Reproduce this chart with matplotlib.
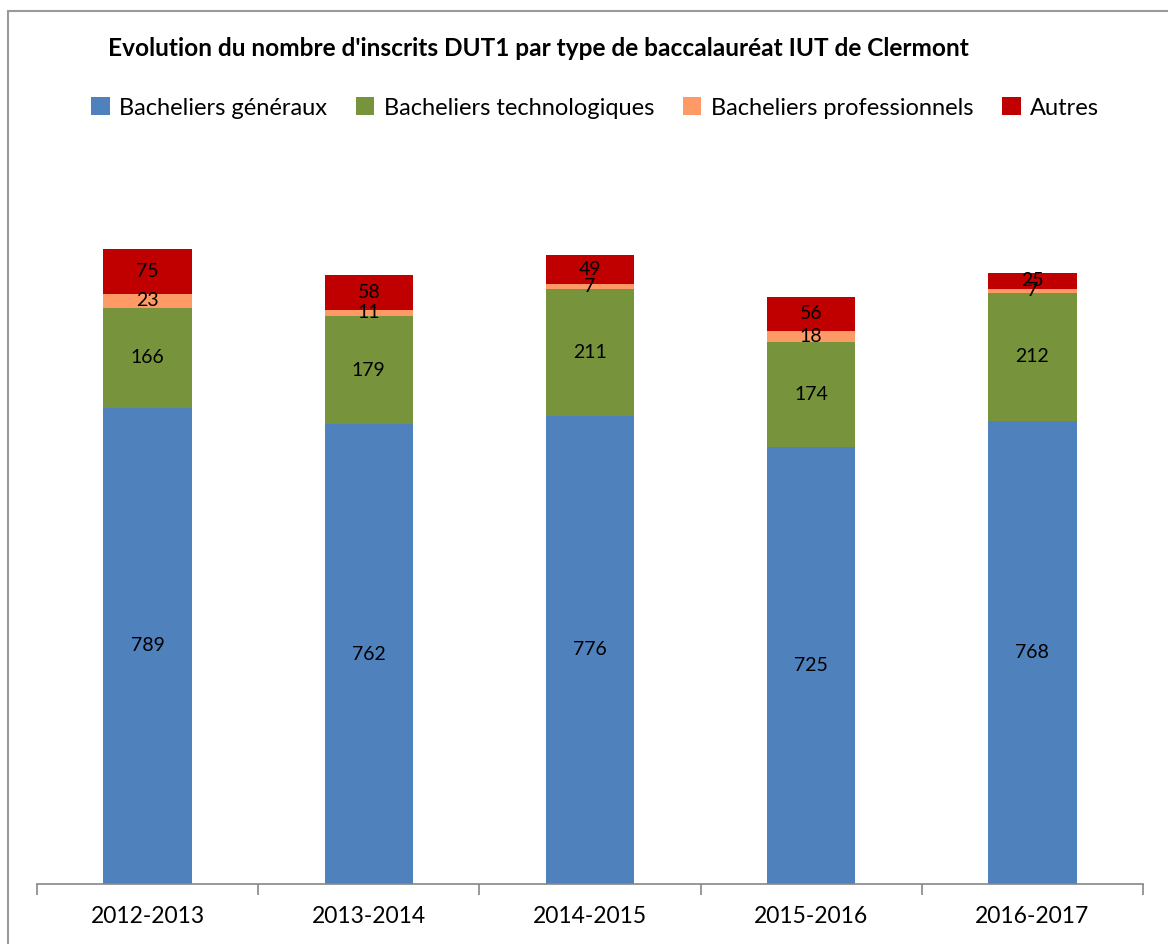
import matplotlib.pyplot as plt
import numpy as np
from matplotlib.patches import Rectangle

plt.rcParams['font.family'] = ['Lato', 'DejaVu Sans']

annees = ['2012-2013', '2013-2014', '2014-2015', '2015-2016', '2016-2017']
generaux = [789, 762, 776, 725, 768]
techno = [166, 179, 211, 174, 212]
pro = [23, 11, 7, 18, 7]
autres = [75, 58, 49, 56, 25]

series = [generaux, techno, pro, autres]
noms = ['Bacheliers généraux', 'Bacheliers technologiques',
        'Bacheliers professionnels', 'Autres']
couleurs = ['#4F81BD', '#77933C', '#FF9966', '#C00000']

fig = plt.figure(figsize=(11.68, 9.44), dpi=100)
ax = fig.add_axes([37/1168, 1-884/944, (1143-37)/1168, 724/944])

x = np.arange(len(annees))
bas = np.zeros(len(annees))
for vals, nom, c in zip(series, noms, couleurs):
    vals = np.array(vals)
    ax.bar(x, vals, 0.4, bottom=bas, color=c, label=nom)
    for xi, b, v in zip(x, bas, vals):
        ax.text(xi, b + v/2, str(v), ha='center', va='center', fontsize=14, color='black')
    bas = bas + vals

ax.set_xlim(-0.5, 4.5)
ax.set_ylim(0, 1200)
ax.set_yticks([])
for s in ['left', 'right', 'top']:
    ax.spines[s].set_visible(False)
ax.spines['bottom'].set_color('#868686')
ax.spines['bottom'].set_linewidth(1.2)
ax.set_xticks(x)
ax.set_xticklabels(annees, fontsize=16.5)
ax.tick_params(axis='x', which='major', length=0, pad=16)
ax.set_xticks(np.arange(-0.5, 5, 1), minor=True)
ax.tick_params(axis='x', which='minor', length=8, color='#868686', width=1.2)

fig.text(108/1168, 1-49/944, "Evolution du nombre d'inscrits DUT1 par type de baccalauréat IUT de Clermont",
         fontsize=17.6, fontweight='bold', va='center', ha='left')

fig.legend(loc='center', bbox_to_anchor=(595/1168, 1-108/944), ncol=4, frameon=False,
           fontsize=17, handlelength=0.8, handleheight=0.8, handletextpad=0.4,
           columnspacing=1.2)

fig.patches.append(Rectangle((8/1168, -0.01), 1.5, 1-11/944+0.01, transform=fig.transFigure,
                             fill=False, edgecolor='#9a9a9a', linewidth=1.5))

fig.savefig('out.png', dpi=100)
